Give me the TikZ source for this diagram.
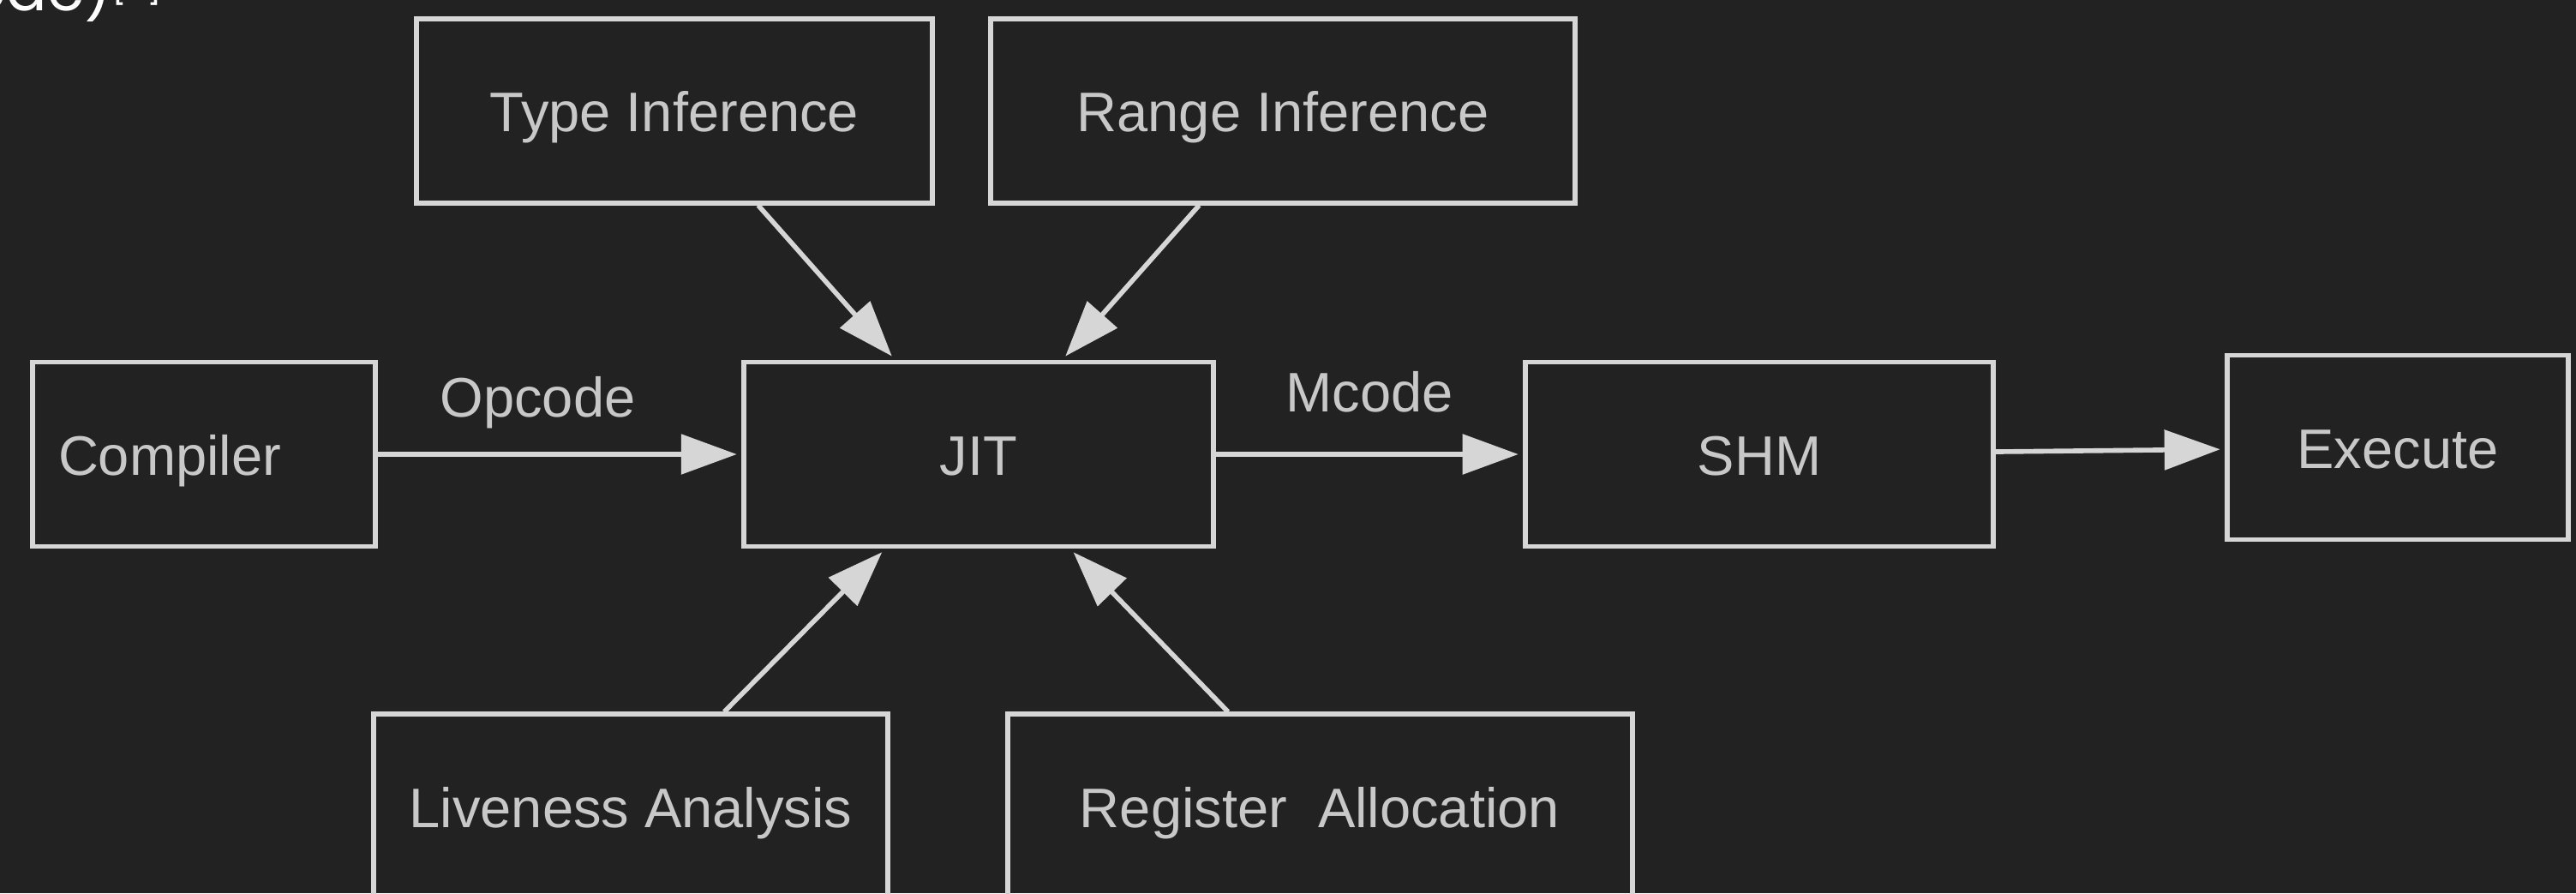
\documentclass[tikz,border=0pt]{standalone}
\usepackage{fontspec}
\setmainfont{Liberation Sans}
\newfontfamily\cutfont{Poppins}
\usetikzlibrary{positioning, arrows.meta}
\definecolor{bgcol}{HTML}{222222}
\definecolor{linecol}{HTML}{D6D6D6}
\definecolor{txtcol}{HTML}{C8C8C8}
\tikzset{
  block/.style={draw=linecol, line width=1.7pt, text=txtcol, minimum height=2.15cm, text height=14.2pt, text depth=0pt},
  flow/.style={->, draw=linecol, line width=1.6pt, shorten >=1.5pt},
  lbl/.style={text=txtcol, text depth=0.25em}
}

\begin{document}
\begin{tikzpicture}[node distance=4cm, >={Triangle[length=0.65cm,width=0.46cm]}, font=\fontsize{18.5}{22}\selectfont]
      \fill[bgcol] (0,0) rectangle (30.06,10.42);
      \useasboundingbox (0,0) rectangle (30.06,10.42);
      \clip (0,0) rectangle (30.06,10.42);
      %
      \node[block, minimum width=5.48cm] (jit) at (11.42,5.12) {JIT};
      \node[block, left=4.24cm of jit, minimum width=4.00cm, text width=3.4cm, inner xsep=0.3cm, align=left] (compiler) {Compiler};
      \node[block, right=3.58cm of jit, minimum width=5.46cm] (shm) {SHM};
      \node[block, right=2.67cm of shm, yshift=0.08cm, minimum width=3.98cm] (execute) {Execute};
      \node[block, above=1.80cm of jit, xshift=-3.55cm, minimum width=6.02cm] (type_inf) {Type Inference};
      \node[block, above=1.80cm of jit, xshift=3.55cm, minimum width=6.82cm] (range_inf) {Range Inference};
      \node[block, below=1.90cm of jit, xshift=-4.06cm, minimum width=6.00cm] (liveness) {Liveness Analysis};
      \node[block, below=1.90cm of jit, xshift=3.98cm, minimum width=7.29cm] (reg_alloc) {Register\ \ Allocation};
      \node[anchor=base west, inner sep=0pt, text=white, font=\cutfont\fontsize{20}{24}\selectfont] (cut_text) at (-0.38,10.29)
      {ode)\raisebox{4pt}{\fontsize{12}{12}\selectfont[\hspace{6.6pt}]}};
      %

      \draw[flow] (compiler) -- node[lbl, above=5.7pt, pos=0.44]{Opcode} (jit);
      \draw[flow] (jit) -- node[lbl, above=7.4pt]{Mcode} (shm);
      \draw[flow] (shm) -- (execute);

      \draw[flow] (type_inf) -- (jit);
      \draw[flow] (range_inf) -- (jit);
      \draw[flow] (liveness) -- (jit);
      \draw[flow] (reg_alloc) -- (jit);
  \end{tikzpicture}
\end{document}
